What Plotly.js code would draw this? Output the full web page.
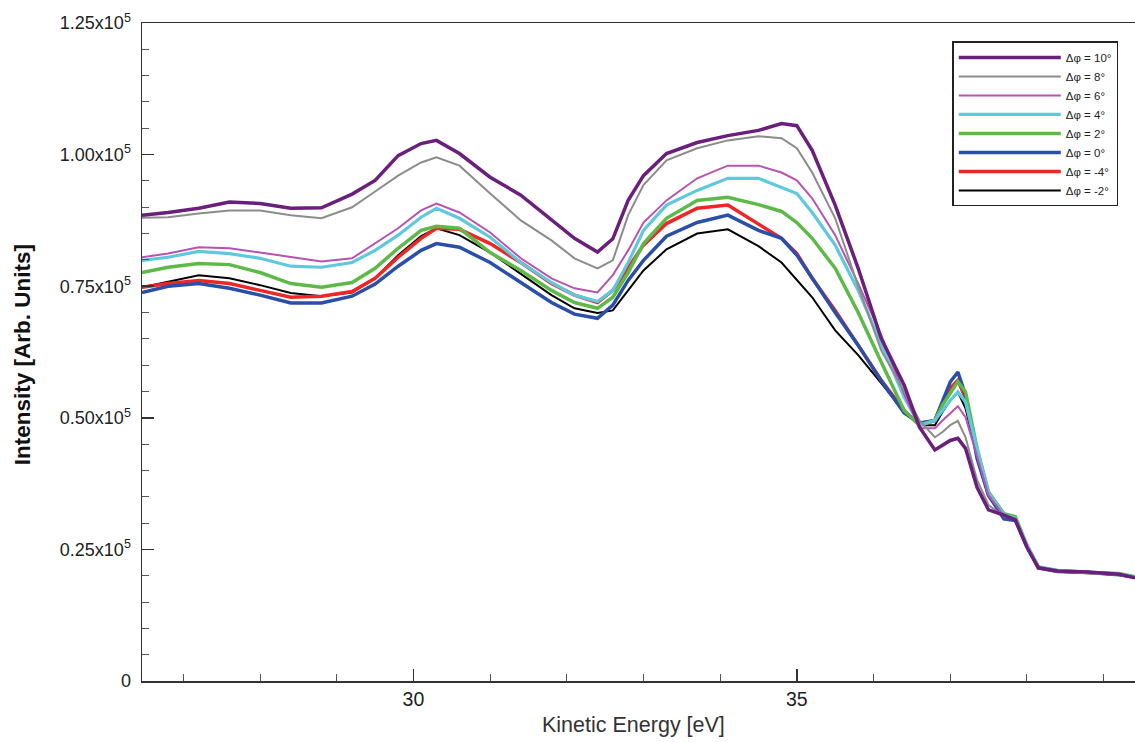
<!DOCTYPE html>
<html>
<head>
<meta charset="utf-8">
<script src="https://cdn.plot.ly/plotly-3.0.1.min.js"></script>
<style>html,body{margin:0;padding:0;background:#fff;}#chart{width:1135px;height:742px;}</style>
</head>
<body>
<div id="chart"></div>
<script>
// Kinetic energy [eV]
const energy = [26.46, 26.8, 27.2, 27.6, 28.0, 28.4, 28.8, 29.2,
  29.5, 29.8, 30.1, 30.3, 30.6, 31.0, 31.4, 31.8,
  32.1, 32.4, 32.6, 32.8, 33.0, 33.3, 33.7, 34.1,
  34.5, 34.8, 35.0, 35.2, 35.5, 35.8, 36.1, 36.4,
  36.6, 36.8, 36.9, 37.0, 37.1, 37.2, 37.35, 37.5,
  37.7, 37.85, 38.0, 38.15, 38.4, 38.8, 39.2, 39.41];

// Intensities in units of 10^3 (Arb. Units)
const phi10K = [88.5, 89.0, 89.8, 91.0, 90.7, 89.8, 89.9, 92.5,
  95.1, 99.8, 102.1, 102.7, 100.2, 95.7, 92.3, 87.5,
  84.1, 81.5, 84.0, 91.3, 96.0, 100.2, 102.3, 103.6,
  104.6, 105.9, 105.5, 100.8, 90.4, 78.4, 65.1, 56.2,
  48.2, 43.9, 44.8, 45.7, 46.1, 44.2, 36.8, 32.5,
  31.5, 30.6, 25.4, 21.5, 20.9, 20.7, 20.3, 19.6];
const phi8K = [88.0, 88.1, 88.8, 89.4, 89.4, 88.5, 87.9, 90.0,
  93.0, 96.0, 98.5, 99.5, 97.9, 92.6, 87.5, 83.7,
  80.3, 78.4, 79.9, 88.5, 94.2, 98.9, 101.2, 102.7,
  103.5, 103.1, 101.2, 96.6, 87.9, 75.0, 62.8, 55.0,
  49.5, 46.3, 47.3, 48.6, 49.4, 46.3, 38.2, 33.4,
  31.3, 30.7, 25.6, 21.5, 20.8, 20.6, 20.2, 19.6];
const phi6K = [80.5, 81.2, 82.4, 82.2, 81.4, 80.5, 79.7, 80.3,
  83.1, 86.0, 89.4, 90.7, 89.0, 85.2, 80.3, 76.5,
  74.6, 73.8, 77.1, 81.8, 87.1, 91.3, 95.5, 97.9,
  97.9, 96.6, 95.1, 91.7, 84.7, 75.5, 65.7, 54.5,
  48.0, 48.0, 49.5, 50.9, 52.2, 50.1, 42.9, 35.3,
  31.4, 30.8, 25.7, 21.6, 20.9, 20.7, 20.3, 19.7];
const phi4K = [79.9, 80.5, 81.6, 81.2, 80.3, 78.8, 78.6, 79.5,
  81.8, 84.7, 88.1, 89.8, 87.9, 84.3, 79.5, 75.7,
  73.3, 72.1, 74.2, 79.5, 85.6, 90.4, 93.2, 95.5,
  95.5, 93.8, 92.6, 89.0, 82.8, 74.2, 64.2, 53.9,
  48.6, 49.5, 51.4, 53.3, 54.9, 53.0, 44.2, 35.7,
  31.6, 30.9, 25.9, 21.7, 21.0, 20.7, 20.3, 19.8];
const phi2K = [77.6, 78.6, 79.3, 79.1, 77.6, 75.5, 74.8, 75.7,
  78.4, 82.2, 85.6, 86.4, 86.0, 81.4, 78.0, 74.2,
  71.9, 70.8, 72.9, 77.6, 83.1, 87.9, 91.3, 91.9,
  90.5, 89.2, 87.1, 84.1, 78.4, 70.0, 60.6, 51.4,
  48.6, 49.5, 52.4, 54.7, 56.9, 54.9, 44.2, 35.9,
  31.8, 31.2, 25.8, 21.6, 21.0, 20.6, 20.4, 19.8];
const phi0K = [73.8, 75.0, 75.5, 74.6, 73.3, 71.8, 71.8, 73.1,
  75.4, 78.8, 81.8, 83.1, 82.4, 79.5, 75.7, 71.9,
  69.7, 68.9, 71.4, 76.1, 79.9, 84.5, 87.1, 88.5,
  85.6, 84.1, 80.9, 76.5, 70.0, 63.8, 57.1, 50.9,
  49.0, 49.5, 53.3, 56.8, 58.7, 54.3, 42.3, 35.3,
  30.8, 30.5, 25.6, 21.5, 20.8, 20.6, 20.2, 19.7];
const phiM4K = [74.8, 75.5, 76.1, 75.5, 74.2, 72.9, 73.1, 74.0,
  76.5, 80.5, 84.1, 86.0, 85.8, 83.1, 79.5, 75.5,
  73.3, 71.9, 74.2, 78.4, 82.8, 86.9, 89.8, 90.4,
  86.8, 84.1, 81.2, 76.5, 70.4, 63.8, 57.1, 51.4,
  48.6, 49.5, 52.9, 55.6, 57.1, 53.7, 42.9, 35.3,
  31.2, 30.7, 25.7, 21.6, 20.9, 20.6, 20.3, 19.7];
const phiM2K = [74.8, 75.9, 77.1, 76.5, 75.2, 73.7, 73.1, 73.8,
  76.5, 80.9, 84.5, 86.0, 84.7, 81.4, 77.4, 73.3,
  70.8, 69.9, 70.4, 74.2, 78.0, 82.0, 85.0, 85.8,
  82.6, 79.5, 76.1, 72.9, 66.6, 61.9, 56.6, 51.1,
  48.6, 48.6, 51.1, 53.3, 54.9, 51.8, 42.9, 35.3,
  31.2, 30.8, 25.7, 21.6, 20.9, 20.7, 20.3, 19.7];

const seriesNames = ['Δφ = 10°', 'Δφ = 8°', 'Δφ = 6°', 'Δφ = 4°', 'Δφ = 2°', 'Δφ = 0°', 'Δφ = -4°', 'Δφ = -2°'];
const seriesValues = [phi10K, phi8K, phi6K, phi4K, phi2K, phi0K, phiM4K, phiM2K];
const seriesColors = ['#6b1f7c', '#8c8c8c', '#b653b3', '#5ec9dd', '#5dba48', '#2b4fa8', '#ef2626', '#000000'];
const seriesWidths = [3.5, 2, 2, 3.2, 3.5, 3.5, 3.5, 2];

const yTickVals = [0, 25000, 50000, 75000, 100000, 125000];
const yTickText = ['0', '0.25x10<sup>5</sup>', '0.50x10<sup>5</sup>', '0.75x10<sup>5</sup>', '1.00x10<sup>5</sup>', '1.25x10<sup>5</sup>'];

const traces = [];
for (let i = seriesNames.length - 1; i >= 0; i--) {
  traces.push({
    x: energy,
    y: seriesValues[i].map(v => v * 1000),
    type: 'scatter',
    mode: 'lines',
    name: seriesNames[i],
    legendrank: i + 1,
    line: {color: seriesColors[i], width: seriesWidths[i]}
  });
}

const font = 'Liberation Sans, Arial, sans-serif';
const layout = {
  width: 1135, height: 742,
  margin: {l: 142, r: 0, t: 23, b: 61},
  paper_bgcolor: '#fff', plot_bgcolor: '#fff',
  showlegend: true,
  legend: {
    x: 0.816, y: 0.972, xanchor: 'left', yanchor: 'top',
    bgcolor: '#fff', bordercolor: '#222', borderwidth: 1.5,
    font: {family: font, size: 11.5, color: '#222'},
    itemwidth: 102, tracegroupgap: 0
  },
  xaxis: {
    range: [26.46, 39.41],
    tickmode: 'linear', tick0: 0, dtick: 5,
    ticks: 'inside', ticklen: 12, tickwidth: 1.5, tickcolor: '#333',
    minor: {tickmode: 'linear', tick0: 0, dtick: 1, ticks: 'inside', ticklen: 7, tickwidth: 1, tickcolor: '#555', showgrid: false},
    showline: true, linecolor: '#333', linewidth: 1.5, mirror: true,
    showgrid: false, zeroline: false,
    tickfont: {family: font, size: 19.5, color: '#222'}
  },
  yaxis: {
    range: [0, 125000],
    tickmode: 'array', tickvals: yTickVals, ticktext: yTickText,
    ticks: 'inside', ticklen: 12, tickwidth: 1.5, tickcolor: '#333',
    minor: {tickmode: 'linear', tick0: 0, dtick: 5000, ticks: 'inside', ticklen: 7, tickwidth: 1, tickcolor: '#555', showgrid: false},
    showline: true, linecolor: '#333', linewidth: 1.5, mirror: true,
    showgrid: false, zeroline: false,
    ticklabelstandoff: 6,
    tickfont: {family: font, size: 18, color: '#222'}
  },
  annotations: [{
    text: '<b>Intensity [Arb. Units]</b>',
    xref: 'paper', yref: 'paper',
    x: -0.1208, y: 0.495, xanchor: 'center', yanchor: 'middle',
    textangle: -90, showarrow: false,
    font: {family: font, size: 22.5, color: '#111'}
  }, {
    text: 'Kinetic Energy [eV]',
    xref: 'paper', yref: 'paper',
    x: (633 - 142) / 993, y: -0.067, xanchor: 'center', yanchor: 'middle',
    showarrow: false,
    font: {family: font, size: 21.5, color: '#333'}
  }]
};

Plotly.newPlot('chart', traces, layout, {staticPlot: true, displayModeBar: false});
</script>
</body>
</html>
